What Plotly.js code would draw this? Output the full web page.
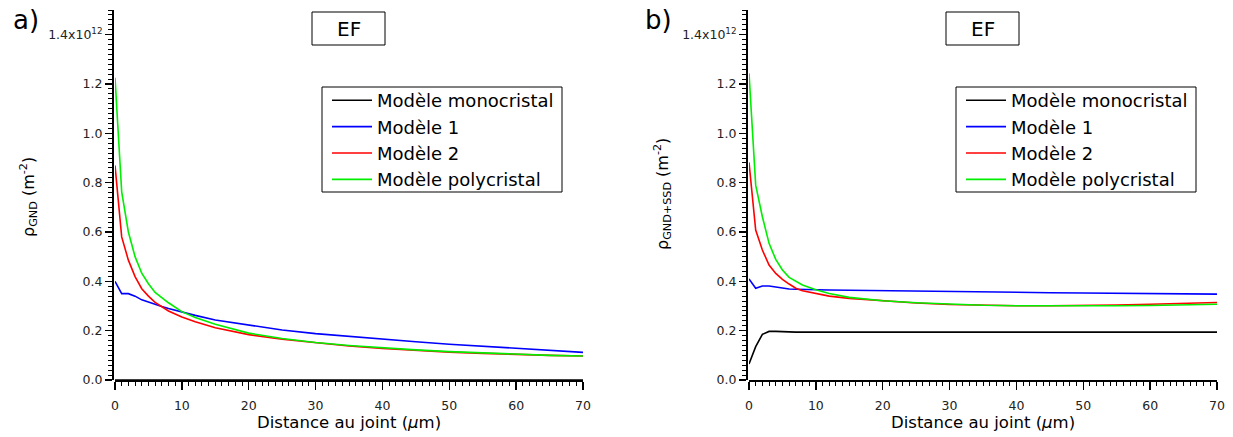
<!DOCTYPE html>
<html>
<head>
<meta charset="utf-8">
<script src="https://cdn.plot.ly/plotly-3.0.1.min.js"></script>
<style>html,body{margin:0;padding:0;background:#fff;}#chart{width:1233px;height:437px;}</style>
</head>
<body>
<div id="chart"></div>
<script>
// Distance au joint (µm)
const distance = [0,1,2,3,4,5,6,7,8,10,12,15,20,25,30,35,40,45,50,55,60,65,70];

// Panel a) rho_GND (x10^12 m^-2)
const a_mono  = [0,0,0,0,0,0,0,0,0,0,0,0,0,0,0,0,0,0,0,0,0,0,0];
const a_mod1  = [0.40,0.35,0.35,0.34,0.325,0.315,0.305,0.298,0.29,0.275,0.262,0.243,0.222,0.203,0.188,0.176,0.165,0.155,0.145,0.136,0.127,0.119,0.112];
const a_mod2  = [0.87,0.58,0.486,0.419,0.37,0.34,0.315,0.296,0.28,0.255,0.236,0.212,0.184,0.165,0.15,0.138,0.128,0.12,0.113,0.108,0.103,0.1,0.097];
const a_poly  = [1.225,0.763,0.60,0.50,0.433,0.39,0.355,0.333,0.313,0.277,0.253,0.226,0.19,0.168,0.152,0.14,0.13,0.122,0.115,0.109,0.104,0.1,0.097];

// Panel b) rho_GND+SSD (x10^12 m^-2)
const b_mono  = [0.065,0.135,0.185,0.197,0.197,0.195,0.194,0.194,0.194,0.194,0.194,0.194,0.194,0.194,0.194,0.194,0.194,0.194,0.194,0.194,0.194,0.194,0.194];
const b_mod1  = [0.41,0.372,0.381,0.381,0.377,0.372,0.369,0.368,0.367,0.366,0.365,0.364,0.362,0.36,0.358,0.357,0.355,0.354,0.353,0.351,0.35,0.349,0.348];
const b_mod2  = [0.882,0.608,0.527,0.466,0.432,0.408,0.389,0.372,0.362,0.35,0.34,0.331,0.32,0.312,0.306,0.303,0.301,0.301,0.302,0.304,0.307,0.311,0.314];
const b_poly  = [1.243,0.79,0.662,0.554,0.489,0.446,0.416,0.399,0.385,0.366,0.351,0.335,0.321,0.313,0.307,0.303,0.301,0.3,0.3,0.301,0.302,0.304,0.307];

const seriesNames = ["Modèle monocristal","Modèle 1","Modèle 2","Modèle polycristal"];
const seriesColors = ["#000000","#0000ff","#ff0000","#00ee00"];

const yTickVals = [0,0.2,0.4,0.6,0.8,1.0,1.2,1.4];
const yTickText = ["0.0","0.2","0.4","0.6","0.8","1.0","1.2","1.4x10<sup>12</sup>"];

const W = 1233, H = 437;
const FONT = "DejaVu Sans, Verdana, sans-serif";

const traces = [];
const aData = [a_mono,a_mod1,a_mod2,a_poly];
const bData = [b_mono,b_mod1,b_mod2,b_poly];
aData.forEach((ys,i)=>traces.push({x:distance,y:ys,type:'scatter',mode:'lines',name:seriesNames[i],
  line:{color:seriesColors[i],width:1.6},xaxis:'x',yaxis:'y',legend:'legend'}));
bData.forEach((ys,i)=>traces.push({x:distance,y:ys,type:'scatter',mode:'lines',name:seriesNames[i],
  line:{color:seriesColors[i],width:1.6},xaxis:'x2',yaxis:'y2',legend:'legend2'}));

function xAxis(x0,x1,anchor){
  return {domain:[x0/W,x1/W],range:[0,70],anchor:anchor,showline:true,linecolor:'#000',linewidth:2,
    ticks:'outside',ticklen:8,tickwidth:1.5,tickcolor:'#000',dtick:10,tick0:0,ticklabelstandoff:5,
    minor:{dtick:1,ticks:'outside',ticklen:4,tickwidth:1,tickcolor:'#000'},
    showgrid:false,zeroline:false,tickfont:{family:FONT,size:12.5,color:'#222'},fixedrange:true};
}
function yAxis(pos){
  return {domain:[(H-380)/H,(H-10)/H],range:[0,1.5],anchor:'free',position:pos/W,
    showline:true,linecolor:'#000',linewidth:2,
    ticks:'outside',ticklen:7,tickwidth:1.5,tickcolor:'#000',tickvals:yTickVals,ticktext:yTickText,
    minor:{dtick:0.02,tick0:0,ticks:'outside',ticklen:4,tickwidth:1,tickcolor:'#000'},
    showgrid:false,zeroline:false,tickfont:{family:FONT,size:12.5,color:'#222'},fixedrange:true};
}

const legendStyle = (x)=>({x:x/W,y:1-82/H,xref:'paper',yref:'paper',xanchor:'left',yanchor:'top',
  bgcolor:'rgba(0,0,0,0)',borderwidth:0,font:{family:FONT,size:18,color:'#000'},
  tracegroupgap:0,itemwidth:40});

const annFont = {family:FONT,color:'#000'};
function ann(text,x,y,size,extra){
  return Object.assign({text:text,x:x/W,y:1-y/H,xref:'paper',yref:'paper',xanchor:'center',yanchor:'middle',
    showarrow:false,font:Object.assign({size:size},annFont)},extra||{});
}
function box(x0,y0,x1,y1){
  return {type:'rect',xref:'paper',yref:'paper',x0:x0/W,x1:x1/W,y0:1-y1/H,y1:1-y0/H,
    line:{color:'#000',width:1},fillcolor:'rgba(255,255,255,0)',layer:'above'};
}

const layout = {
  width:W,height:H,margin:{l:0,r:0,t:0,b:0},paper_bgcolor:'#fff',plot_bgcolor:'#fff',
  showlegend:true,
  xaxis:xAxis(115,583,'y'),
  yaxis:yAxis(113),
  xaxis2:xAxis(749,1217,'y2'),
  yaxis2:yAxis(747),
  legend:legendStyle(327),
  legend2:legendStyle(961),
  shapes:[box(322,87,562,192),box(956,87,1196,192),box(312,12,385,45),box(946,12,1019,45)],
  annotations:[
    ann('a)',26,20,26),
    ann('b)',658,20,26),
    ann('EF',348.5,29,20),
    ann('EF',982.5,29,20),
    ann('Distance au joint (<i>μ</i>m)',349,422,16.5),
    ann('Distance au joint (<i>μ</i>m)',983,422,16.5),
    ann('ρ<sub>GND</sub> (m<sup>-2</sup>)',28,197,16,{textangle:-90}),
    ann('ρ<sub>GND+SSD</sub> (m<sup>-2</sup>)',662,194,16,{textangle:-90})
  ]
};

Plotly.newPlot('chart',traces,layout,{staticPlot:true,displayModeBar:false});
</script>
</body>
</html>
